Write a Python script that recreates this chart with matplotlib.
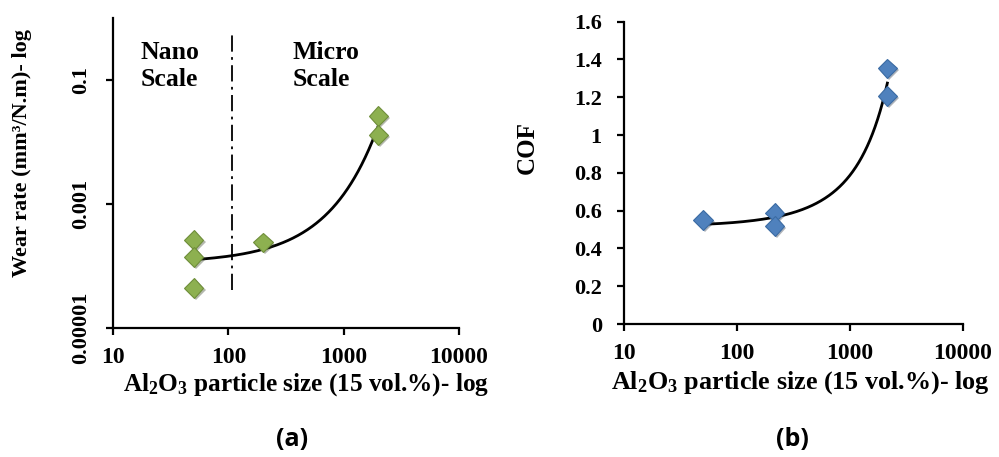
import numpy as np
import matplotlib
matplotlib.use("Agg")
import matplotlib.pyplot as plt
import matplotlib.patheffects as pe

plt.rcParams['font.family'] = ['Liberation Serif', 'DejaVu Serif']
plt.rcParams['font.weight'] = 'bold'
plt.rcParams['mathtext.fontset'] = 'custom'
plt.rcParams['mathtext.rm'] = 'Liberation Serif:bold'
plt.rcParams['mathtext.it'] = 'Liberation Serif:bold'
plt.rcParams['mathtext.bf'] = 'Liberation Serif:bold'

# (a) wear rate vs particle size
wear_size = [50, 50, 50, 200, 2000, 2000]
wear_rate = [2.6e-4, 1.4e-4, 4.4e-5, 2.4e-4, 0.026, 0.0129]

# (b) COF vs particle size
cof_size = [50, 215, 215, 2140, 2140]
cof_val = [0.55, 0.59, 0.518, 1.353, 1.206]

x_ticks = [10, 100, 1000, 10000]
x_ticklabels = ['10', '100', '1000', '10000']
wear_ticks = [1e-5, 1e-3, 1e-1]
wear_ticklabels = ['0.00001', '0.001', '0.1']
cof_ticks = [0, 0.2, 0.4, 0.6, 0.8, 1, 1.2, 1.4, 1.6]
cof_ticklabels = ['0', '0.2', '0.4', '0.6', '0.8', '1', '1.2', '1.4', '1.6']
nano_micro_boundary = 107

xlab = 'Al$\\mathregular{_2}$O$\\mathregular{_3}$ particle size (15 vol.%)- log'

fig = plt.figure(figsize=(9.99, 4.57), dpi=100)
ax1 = fig.add_axes([0.1131, 0.2823, 0.3464, 0.6783])
ax2 = fig.add_axes([0.6246, 0.2910, 0.3394, 0.6615])

shadow = [pe.SimplePatchShadow(offset=(1.5, -1.5), alpha=0.35), pe.Normal()]

for ax in (ax1, ax2):
    ax.set_xscale('log')
    ax.set_xlim(10, 10000)
    ax.set_xticks(x_ticks)
    ax.set_xticklabels(x_ticklabels)
    ax.minorticks_off()
    for s in ('top', 'right'):
        ax.spines[s].set_visible(False)
    for s in ('left', 'bottom'):
        ax.spines[s].set_linewidth(1.6)
    ax.tick_params(axis='both', length=5, width=1.6, labelsize=16)
    ax.tick_params(axis='x', pad=9, labelsize=17)

# ---- panel (a)
ax1.set_yscale('log')
ax1.set_ylim(1e-5, 1)
ax1.set_yticks(wear_ticks)
ax1.set_yticklabels(wear_ticklabels, rotation=90, va='center')
ax1.minorticks_off()
ax1.tick_params(axis='y', pad=11, labelsize=16)

b, a = np.polyfit(wear_size, np.log(wear_rate), 1)
xf = np.linspace(min(wear_size), max(wear_size), 300)
ax1.plot(xf, np.exp(a + b * xf), color='black', lw=2)
ax1.plot(wear_size, wear_rate, 'D', ms=10, color='#8DB050',
         mec='#6F8E3A', mew=0.8, path_effects=shadow, zorder=3)
ax1.plot([nano_micro_boundary, nano_micro_boundary], [4.1e-5, 0.65],
         color='black', lw=1.3, linestyle=(0, (9, 3, 1.5, 3)))
ax1.text(0.08, 0.845, 'Nano\nScale', transform=ax1.transAxes, fontsize=18.5,
         va='center', ha='left', linespacing=1.2)
ax1.text(0.52, 0.845, 'Micro\nScale', transform=ax1.transAxes, fontsize=18.5,
         va='center', ha='left', linespacing=1.2)

# ---- panel (b)
ax2.set_ylim(0, 1.6)
ax2.set_yticks(cof_ticks)
ax2.set_yticklabels(cof_ticklabels)
ax2.tick_params(axis='y', pad=11)

d, c = np.polyfit(cof_size, np.log(cof_val), 1)
xf2 = np.linspace(min(cof_size), max(cof_size), 300)
ax2.plot(xf2, np.exp(c + d * xf2), color='black', lw=2)
ax2.plot(cof_size, cof_val, 'D', ms=10, color='#4F81BD',
         mec='#3B6BA3', mew=0.8, path_effects=shadow, zorder=3)

# labels in figure pixel positions
def ftext(x, y, s, **kw):
    fig.text(x / 999, 1 - y / 457, s, ha='center', va='center', **kw)

ftext(22, 153, 'Wear rate (mm³/N.m)- log', rotation=90, fontsize=16)
ftext(306, 385, xlab, fontsize=18.2)
ftext(527, 148, 'COF', rotation=90, fontsize=18)
ftext(800, 383, xlab, fontsize=18.8)
ftext(292, 440, '(a)', fontsize=18, family='Open Sans', fontweight='bold')
ftext(792, 440, '(b)', fontsize=18, family='Open Sans', fontweight='bold')

fig.savefig('out.png', dpi=100)
